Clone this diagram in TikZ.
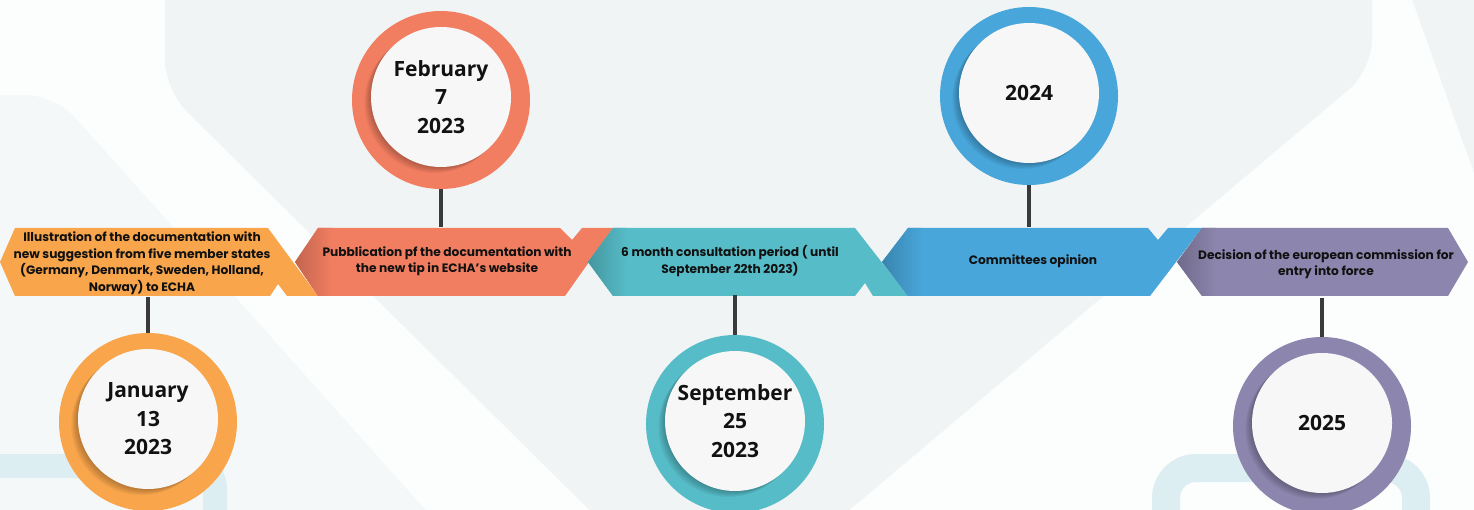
\documentclass[tikz,border=0pt]{standalone}
\usepackage{fontspec}
\setmainfont{Poppins}
\newfontfamily\datefont{Open Sans}

\definecolor{cJan}{HTML}{F8A54B}
\definecolor{cFeb}{HTML}{F27E61}
\definecolor{cSep}{HTML}{56BCC7}
\definecolor{cYrA}{HTML}{48A6DA}
\definecolor{cYrB}{HTML}{8C85AD}
\definecolor{paper}{HTML}{F7F7F7}
\definecolor{ink}{HTML}{111111}
\definecolor{stemgray}{HTML}{3A3A3A}
\definecolor{bgA}{HTML}{FCFDFD}
\definecolor{bgB}{HTML}{F1F4F5}
\definecolor{bgC}{HTML}{DDEEF2}

\begin{document}
\begin{tikzpicture}[x=1pt,y=-1pt]
  \tikzstyle{seg}=[inner sep=0, minimum height=68, align=center, text=ink, font=\bfseries\fontsize{12.2}{16.5}\selectfont]
  \tikzstyle{ring}=[circle, inner sep=0, minimum size=178]
  \tikzstyle{date}=[circle, inner sep=0, minimum size=140, fill=paper, text=ink, align=center, font=\datefont\bfseries\fontsize{21}{28.5}\selectfont]
  \tikzstyle{stem}=[line width=4, stemgray]

  \useasboundingbox (0,0) rectangle (1474,510);
  \fill[bgA] (0,0) rectangle (1474,510);
  \fill[bgB, rounded corners=30] (165,-40) -- (1372,-40) -- (1372,70) -- (790,560) -- (640,560) -- (165,90) -- cycle;
  \fill[bgB, rounded corners=30] (1398,-40) -- (1530,-40) -- (1530,330) -- cycle;
  \fill[bgB!60!bgA, rounded corners=30] (-40,95) -- (55,95) -- (470,560) -- (-40,560) -- cycle;
  \draw[bgC, line width=24, rounded corners=22] (-10,466) -- (215,466) -- (215,530);
  \draw[bgC, line width=28, rounded corners=30] (1166,530) -- (1166,468) -- (1416,468) -- (1416,530);

  \fill[cJan] (15,228) -- (268,228) -- (318,296) -- (287,296) -- (278,284) -- (270,296) -- (15,296) -- (0,262) -- cycle;
  \fill[cFeb] (318,228) -- (560,228) -- (572,240) -- (582,228) -- (613,228) -- (565,296) -- (318,296) -- (295,262) -- cycle;
  \fill[cSep] (613,228) -- (855,228) -- (908,296) -- (873,296) -- (865,283) -- (855,296) -- (613,296) -- (588,262) -- cycle;
  \fill[cYrA] (908,228) -- (1148,228) -- (1158,240) -- (1168,228) -- (1202,228) -- (1150,296) -- (908,296) -- (882,262) -- cycle;
  \fill[cYrB] (1202,228) -- (1448,228) -- (1468,262) -- (1448,296) -- (1202,296) -- (1177,262) -- cycle;
  \shade[left color=cFeb!80!black, right color=cFeb] (295,262) -- (318,228) -- (332,228) -- (332,296) -- (318,296) -- cycle;
  \shade[left color=cSep!80!black, right color=cSep] (588,262) -- (613,228) -- (627,228) -- (627,296) -- (613,296) -- cycle;
  \shade[left color=cYrA!80!black, right color=cYrA] (882,262) -- (908,228) -- (922,228) -- (922,296) -- (908,296) -- cycle;
  \shade[left color=cYrB!80!black, right color=cYrB] (1177,262) -- (1202,228) -- (1216,228) -- (1216,296) -- (1202,296) -- cycle;

  \node[seg] (s1) at (142,263) {Illustration of the documentation with\\new suggestion from five member states\\(Germany, Denmark, Sweden, Holland,\\Norway) to ECHA};
  \node[seg] (s2) at (447,261) {Pubblication pf the documentation with\\the new tip in ECHA’s website};
  \node[seg] (s3) at (730,261) {6 month consultation period ( until\\September 22th 2023)};
  \node[seg] (s4) at (1033,261) {Committees opinion};
  \node[seg] (s5) at (1326,264) {Decision of the european commission for\\entry into force};

  \node[ring, fill=cJan] (r1) at (148,422) {};
  \node[ring, fill=cFeb] (r2) at (441,100) {};
  \node[ring, fill=cSep] (r3) at (735,424) {};
  \node[ring, fill=cYrA] (r4) at (1029,96) {};
  \node[ring, fill=cYrB] (r5) at (1322,426) {};
  \foreach \r in {r1,r2,r3,r4,r5}
    \foreach \k in {1,...,6}
      \fill[black, opacity=.045] (\r) ++(-1.1*\k,1.0*\k-3) circle (70pt);

  \node[date] (d1) at (148,419) {January\\13\\2023};
  \node[date] (d2) at (441,97) {February\\7\\2023};
  \node[date] (d3) at (735,421) {September\\25\\2023};
  \node[date] (d4) at (1029,93) {2024};
  \node[date] (d5) at (1322,423) {2025};

  \draw[stem] (r1.north) -- (r1.north |- s1.south);
  \draw[stem] (r2.south) -- (r2.south |- s2.north);
  \draw[stem] (r3.north) -- (r3.north |- s3.south);
  \draw[stem] (r4.south) -- (r4.south |- s4.north);
  \draw[stem] (r5.north) -- (r5.north |- s5.south);
\end{tikzpicture}
\end{document}
